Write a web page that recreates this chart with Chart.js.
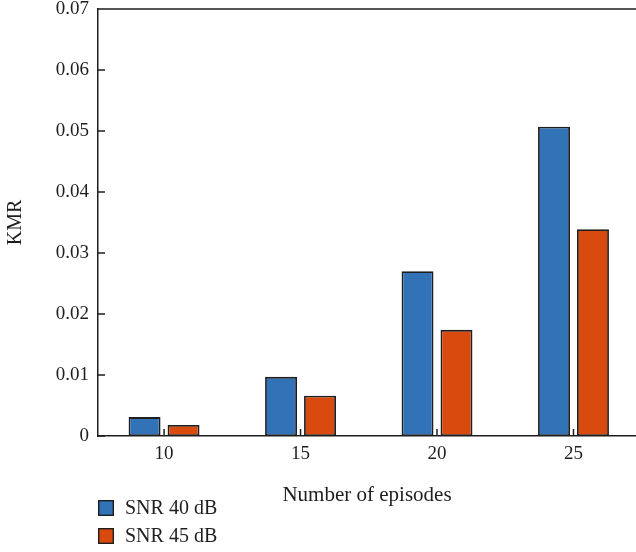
<!DOCTYPE html>
<html>
<head>
<meta charset="utf-8">
<script src="https://cdn.jsdelivr.net/npm/chart.js@4.4.1/dist/chart.umd.min.js"></script>
<style>
  html, body { margin: 0; padding: 0; background: #ffffff; }
  #wrap { width: 636px; height: 552px; overflow: hidden; }
</style>
</head>
<body>
<div id="wrap"><canvas id="kmr" width="636" height="552"></canvas></div>
<script>
// Number of episodes on the horizontal axis
const episodes = [10, 15, 20, 25];
// KMR per episode count for each SNR level
const snr40 = [0.0031, 0.0097, 0.0270, 0.0507];
const snr45 = [0.0018, 0.0066, 0.0174, 0.0339];
const seriesLabels = ['SNR 40 dB', 'SNR 45 dB'];
const yTickLabels = ['0', '0.01', '0.02', '0.03', '0.04', '0.05', '0.06', '0.07'];

const BLUE = '#3273b8';
const ORANGE = '#d94a0e';
const INK = '#1e1e1e';
const FONT = "'Liberation Serif', 'Times New Roman', serif";

// Inward tick marks, the top frame line and a stacked legend under the axis title
const framePlugin = {
  id: 'framePlugin',
  afterDraw(chart) {
    const { ctx, chartArea: a, scales: { x, y } } = chart;
    ctx.save();
    ctx.strokeStyle = INK;
    ctx.lineWidth = 1.5;
    ctx.beginPath();
    ctx.moveTo(a.left, a.top);
    ctx.lineTo(a.right, a.top);
    y.ticks.forEach(t => {
      const py = y.getPixelForValue(t.value);
      ctx.moveTo(a.left, py);
      ctx.lineTo(a.left + 7, py);
    });
    x.ticks.forEach(t => {
      const px = x.getPixelForValue(t.value);
      ctx.moveTo(px, a.bottom);
      ctx.lineTo(px, a.bottom - 7);
    });
    ctx.stroke();

    // legend
    ctx.font = '20px ' + FONT;
    ctx.textBaseline = 'middle';
    ctx.textAlign = 'left';
    chart.data.datasets.forEach((ds, i) => {
      const top = 500 + i * 28;
      ctx.fillStyle = ds.backgroundColor;
      ctx.fillRect(a.left, top, 16, 16);
      ctx.strokeStyle = INK;
      ctx.lineWidth = 1.4;
      ctx.strokeRect(a.left + 0.7, top + 0.7, 14.6, 14.6);
      ctx.fillStyle = INK;
      ctx.fillText(ds.label, a.left + 27, top + 9);
    });
    ctx.restore();
  }
};

const makeSeries = values => values.map((v, i) => ({ x: episodes[i], y: v }));

new Chart(document.getElementById('kmr'), {
  type: 'bar',
  data: {
    datasets: [
      { label: seriesLabels[0], data: makeSeries(snr40), backgroundColor: BLUE,
        borderColor: INK, borderWidth: 1.8, borderSkipped: false },
      { label: seriesLabels[1], data: makeSeries(snr45), backgroundColor: ORANGE,
        borderColor: INK, borderWidth: 1.8, borderSkipped: false }
    ]
  },
  options: {
    responsive: false,
    animation: false,
    devicePixelRatio: 1,
    categoryPercentage: 0.571,
    barPercentage: 0.82,
    layout: { padding: { top: 9, right: 0, bottom: 0, left: 0 } },
    plugins: {
      legend: { display: false },
      tooltip: { enabled: false }
    },
    scales: {
      x: {
        type: 'linear',
        offset: false,
        min: 7.58,
        max: 27.29,
        afterBuildTicks: scale => { scale.ticks = episodes.map(v => ({ value: v })); },
        afterFit: scale => {
          scale.height = 116;
          scale.paddingLeft = 0;
          scale.paddingRight = 0;
        },
        grid: { display: false, drawTicks: false },
        border: { display: true, color: INK, width: 1.5 },
        ticks: {
          color: INK,
          padding: 9,
          font: { family: FONT, size: 19, lineHeight: 0.9 },
          callback: v => String(v)
        },
        title: {
          display: true,
          text: 'Number of episodes',
          color: INK,
          font: { family: FONT, size: 21, lineHeight: 1.2 },
          padding: { top: 0, bottom: 44 }
        }
      },
      y: {
        min: 0,
        max: 0.07,
        afterBuildTicks: scale => {
          scale.ticks = yTickLabels.map((_, i) => ({ value: i * 0.01 }));
        },
        afterFit: scale => {
          scale.width = 98;
          scale.paddingTop = 0;
          scale.paddingBottom = 0;
        },
        grid: { display: false, drawTicks: false },
        border: { display: true, color: INK, width: 1.5 },
        ticks: {
          color: INK,
          padding: 9,
          font: { family: FONT, size: 19, lineHeight: 0.9 },
          callback: (v, i) => yTickLabels[i]
        },
        title: {
          display: true,
          text: 'KMR',
          color: INK,
          font: { family: FONT, size: 20, lineHeight: 1.2 },
          padding: { top: 4, bottom: 0 }
        }
      }
    }
  },
  plugins: [framePlugin]
});
</script>
</body>
</html>
